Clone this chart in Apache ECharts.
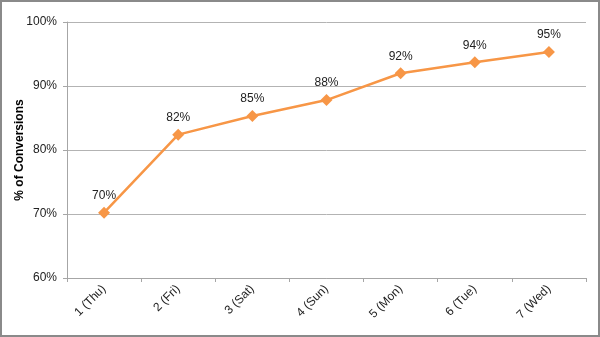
<!DOCTYPE html>
<html>
<head>
<meta charset="utf-8">
<script src="https://cdn.jsdelivr.net/npm/echarts@6/dist/echarts.min.js"></script>
<style>
  html, body { margin: 0; padding: 0; background: #fff; }
  #chart { width: 600px; height: 337px; }
</style>
</head>
<body>
<div id="chart"></div>
<script>
// Day of the cohort, with weekday
const days = ['1 (Thu)', '2 (Fri)', '3 (Sat)', '4 (Sun)', '5 (Mon)', '6 (Tue)', '7 (Wed)'];
// Cumulative share of conversions, in percent
const conversions = [70.2, 82.4, 85.3, 87.8, 92.0, 93.7, 95.3];
// Value axis range and step, in percent
const yMin = 60;
const yMax = 100;
const yStep = 10;

const chart = echarts.init(document.getElementById('chart'), null, { renderer: 'canvas' });
const font = 'Arial, "Liberation Sans", sans-serif';

chart.setOption({
  backgroundColor: '#ffffff',
  animation: false,
  graphic: [{
    type: 'rect',
    shape: { x: 1, y: 1, width: 598, height: 335 },
    style: { fill: 'none', stroke: '#8a8a8a', lineWidth: 2 },
    silent: true
  }],
  grid: { left: 67, right: 14, top: 22, bottom: 59, outerBoundsMode: 'none' },
  xAxis: {
    type: 'category',
    data: days,
    boundaryGap: true,
    axisLine: { lineStyle: { color: '#a6a6a6', width: 1 } },
    axisTick: { show: true, alignWithLabel: false, length: 4, lineStyle: { color: '#a6a6a6' } },
    axisLabel: { rotate: 45, color: '#222', fontFamily: font, fontSize: 12, margin: 9 },
    splitLine: { show: false }
  },
  yAxis: {
    type: 'value',
    min: yMin,
    max: yMax,
    interval: yStep,
    name: '% of Conversions',
    nameLocation: 'middle',
    nameRotate: 90,
    nameGap: 41,
    nameMoveOverlap: false,
    nameTextStyle: { color: '#000', fontFamily: font, fontSize: 12, fontWeight: 'bold' },
    axisLine: { show: true, lineStyle: { color: '#a6a6a6', width: 1 } },
    axisTick: { show: true, length: 4, lineStyle: { color: '#a6a6a6' } },
    axisLabel: { color: '#222', fontFamily: font, fontSize: 12, margin: 10, formatter: v => v + '%' },
    splitLine: { show: true, lineStyle: { color: '#b3b3b3', width: 1 } }
  },
  series: [{
    type: 'line',
    data: conversions,
    symbol: 'diamond',
    symbolSize: 12,
    lineStyle: { color: '#f79646', width: 2.5 },
    itemStyle: { color: '#f79646' },
    label: {
      show: true,
      position: 'top',
      distance: 5,
      color: '#222',
      fontFamily: font,
      fontSize: 12,
      formatter: p => Math.round(p.value) + '%'
    }
  }]
});
</script>
</body>
</html>
